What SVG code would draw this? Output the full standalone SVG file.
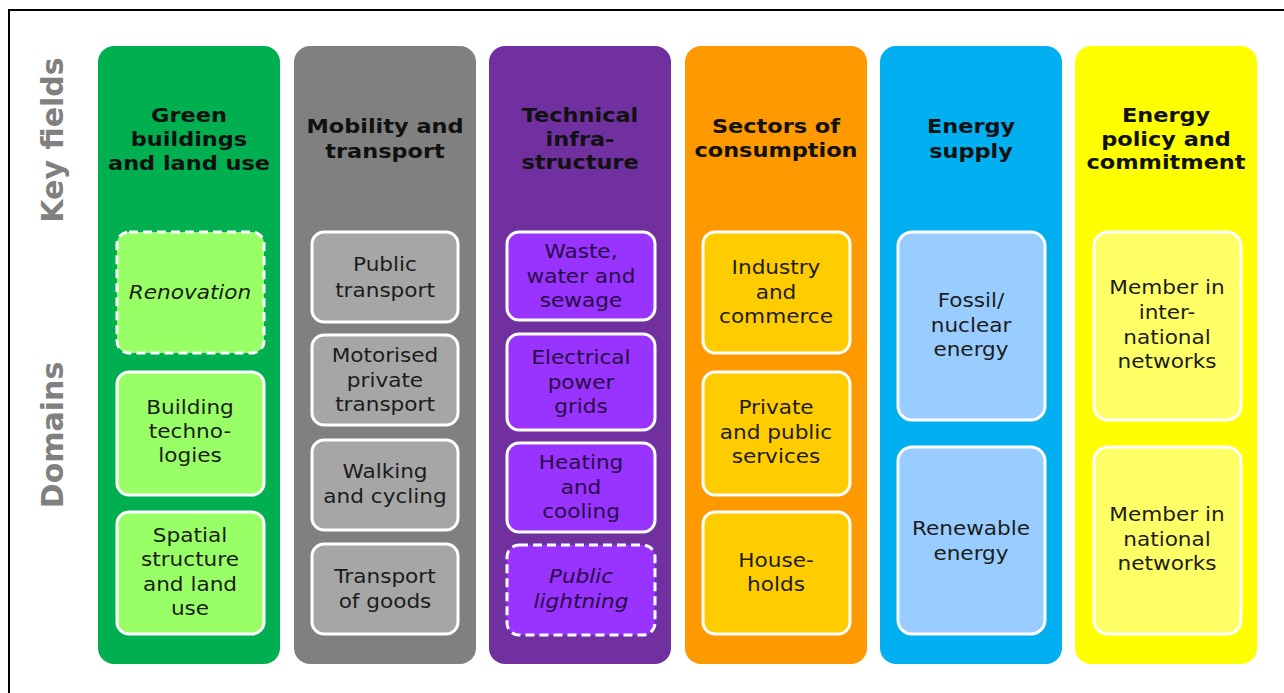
<svg xmlns="http://www.w3.org/2000/svg" width="1284" height="693" viewBox="0 0 1284 693">
<style>
.col{stroke:none}
.box{stroke:#fff;stroke-width:3}
.dash{stroke-dasharray:9 5}
.h{font-family:"DejaVu Sans","Liberation Sans",sans-serif;font-weight:bold;font-size:19px;fill:#111;text-anchor:middle}
.t{font-family:"DejaVu Sans","Liberation Sans",sans-serif;font-size:20px;fill:#1c1c1c;text-anchor:middle}
.i{font-style:italic}
.side{font-family:"DejaVu Sans","Liberation Sans",sans-serif;font-weight:bold;font-size:30px;fill:#808080;text-anchor:middle}
.pt{fill:#2a0c44}
</style>
<rect x="0" y="0" width="1284" height="693" fill="#fff"/>
<rect x="9" y="10" width="1300" height="710" fill="none" stroke="#000" stroke-width="2"/>
<g id="labels">
<text class="side" transform="translate(63 140) rotate(-90)">Key fields</text>
<text class="side" transform="translate(63 435) rotate(-90)">Domains</text>
</g>
<g id="connectors"></g>

<g id="col-green">
<rect class="col" x="98" y="46" width="182" height="618" rx="16" fill="#00b050"/>
<g transform="translate(189 0) scale(1.18 1)"><text class="h" x="0" y="122">Green</text><text class="h" x="0" y="146">buildings</text><text class="h" x="0" y="170">and land use</text></g>
<g id="renovation"><rect class="box dash" x="117" y="232" width="147" height="121" rx="12" fill="#99ff66"/>
<g transform="translate(190 0) scale(1.08 1)"><text class="t i" x="0" y="299">Renovation</text></g></g>
<g id="building-tech"><rect class="box" x="117" y="372" width="147" height="123" rx="12" fill="#99ff66"/>
<g transform="translate(190 0) scale(1.08 1)"><text class="t" x="0" y="414">Building</text><text class="t" x="0" y="438">techno-</text><text class="t" x="0" y="462">logies</text></g></g>
<g id="spatial"><rect class="box" x="117" y="512" width="147" height="122" rx="12" fill="#99ff66"/>
<g transform="translate(190 0) scale(1.08 1)"><text class="t" x="0" y="542">Spatial</text><text class="t" x="0" y="566">structure</text><text class="t" x="0" y="591">and land</text><text class="t" x="0" y="615">use</text></g></g>
</g>

<g id="col-gray">
<rect class="col" x="294" y="46" width="182" height="618" rx="16" fill="#808080"/>
<g transform="translate(385 0) scale(1.18 1)"><text class="h" x="0" y="133">Mobility and</text><text class="h" x="0" y="158">transport</text></g>
<g id="public-transport"><rect class="box" x="312" y="232" width="146" height="90" rx="12" fill="#a6a6a6"/>
<g transform="translate(385 0) scale(1.08 1)"><text class="t" x="0" y="271">Public</text><text class="t" x="0" y="297">transport</text></g></g>
<g id="motorised"><rect class="box" x="312" y="335" width="146" height="90" rx="12" fill="#a6a6a6"/>
<g transform="translate(385 0) scale(1.08 1)"><text class="t" x="0" y="362">Motorised</text><text class="t" x="0" y="387">private</text><text class="t" x="0" y="411">transport</text></g></g>
<g id="walking"><rect class="box" x="312" y="440" width="146" height="90" rx="12" fill="#a6a6a6"/>
<g transform="translate(385 0) scale(1.08 1)"><text class="t" x="0" y="478">Walking</text><text class="t" x="0" y="503">and cycling</text></g></g>
<g id="goods"><rect class="box" x="312" y="544" width="146" height="90" rx="12" fill="#a6a6a6"/>
<g transform="translate(385 0) scale(1.08 1)"><text class="t" x="0" y="583">Transport</text><text class="t" x="0" y="608">of goods</text></g></g>
</g>

<g id="col-purple">
<rect class="col" x="489" y="46" width="182" height="618" rx="16" fill="#7030a0"/>
<g transform="translate(580 0) scale(1.18 1)"><text class="h" x="0" y="122">Technical</text><text class="h" x="0" y="146">infra-</text><text class="h" x="0" y="169">structure</text></g>
<g id="waste"><rect class="box" x="507" y="232" width="148" height="88" rx="12" fill="#9933ff"/>
<g transform="translate(581 0) scale(1.08 1)"><text class="t pt" x="0" y="258">Waste,</text><text class="t pt" x="0" y="283">water and</text><text class="t pt" x="0" y="307">sewage</text></g></g>
<g id="electrical"><rect class="box" x="507" y="334" width="148" height="96" rx="12" fill="#9933ff"/>
<g transform="translate(581 0) scale(1.08 1)"><text class="t pt" x="0" y="364">Electrical</text><text class="t pt" x="0" y="389">power</text><text class="t pt" x="0" y="413">grids</text></g></g>
<g id="heating"><rect class="box" x="507" y="443" width="148" height="89" rx="12" fill="#9933ff"/>
<g transform="translate(581 0) scale(1.08 1)"><text class="t pt" x="0" y="469">Heating</text><text class="t pt" x="0" y="494">and</text><text class="t pt" x="0" y="518">cooling</text></g></g>
<g id="lightning"><rect class="box dash" x="507" y="545" width="148" height="90" rx="12" fill="#9933ff"/>
<g transform="translate(581 0) scale(1.08 1)"><text class="t i pt" x="0" y="583">Public</text><text class="t i pt" x="0" y="608">lightning</text></g></g>
</g>

<g id="col-orange">
<rect class="col" x="685" y="46" width="182" height="618" rx="16" fill="#ff9900"/>
<g transform="translate(776 0) scale(1.18 1)"><text class="h" x="0" y="133">Sectors of</text><text class="h" x="0" y="157">consumption</text></g>
<g id="industry"><rect class="box" x="703" y="232" width="147" height="121" rx="12" fill="#ffcc00"/>
<g transform="translate(776 0) scale(1.08 1)"><text class="t" x="0" y="274">Industry</text><text class="t" x="0" y="299">and</text><text class="t" x="0" y="323">commerce</text></g></g>
<g id="services"><rect class="box" x="703" y="372" width="147" height="123" rx="12" fill="#ffcc00"/>
<g transform="translate(776 0) scale(1.08 1)"><text class="t" x="0" y="414">Private</text><text class="t" x="0" y="439">and public</text><text class="t" x="0" y="463">services</text></g></g>
<g id="households"><rect class="box" x="703" y="512" width="147" height="122" rx="12" fill="#ffcc00"/>
<g transform="translate(776 0) scale(1.08 1)"><text class="t" x="0" y="567">House-</text><text class="t" x="0" y="591">holds</text></g></g>
</g>

<g id="col-blue">
<rect class="col" x="880" y="46" width="182" height="618" rx="16" fill="#00b0f0"/>
<g transform="translate(971 0) scale(1.18 1)"><text class="h" x="0" y="133">Energy</text><text class="h" x="0" y="158">supply</text></g>
<g id="fossil"><rect class="box" x="898" y="232" width="147" height="188" rx="14" fill="#99ccff"/>
<g transform="translate(971 0) scale(1.08 1)"><text class="t" x="0" y="307">Fossil/</text><text class="t" x="0" y="332">nuclear</text><text class="t" x="0" y="356">energy</text></g></g>
<g id="renewable"><rect class="box" x="898" y="447" width="147" height="187" rx="14" fill="#99ccff"/>
<g transform="translate(971 0) scale(1.08 1)"><text class="t" x="0" y="535">Renewable</text><text class="t" x="0" y="560">energy</text></g></g>
</g>

<g id="col-yellow">
<rect class="col" x="1075" y="46" width="182" height="618" rx="16" fill="#ffff00"/>
<g transform="translate(1166 0) scale(1.18 1)"><text class="h" x="0" y="122">Energy</text><text class="h" x="0" y="146">policy and</text><text class="h" x="0" y="169">commitment</text></g>
<g id="international"><rect class="box" x="1094" y="232" width="147" height="188" rx="14" fill="#ffff66"/>
<g transform="translate(1167 0) scale(1.08 1)"><text class="t" x="0" y="294">Member in</text><text class="t" x="0" y="319">inter-</text><text class="t" x="0" y="344">national</text><text class="t" x="0" y="368">networks</text></g></g>
<g id="national"><rect class="box" x="1094" y="447" width="147" height="187" rx="14" fill="#ffff66"/>
<g transform="translate(1167 0) scale(1.08 1)"><text class="t" x="0" y="521">Member in</text><text class="t" x="0" y="546">national</text><text class="t" x="0" y="570">networks</text></g></g>
</g>
</svg>
